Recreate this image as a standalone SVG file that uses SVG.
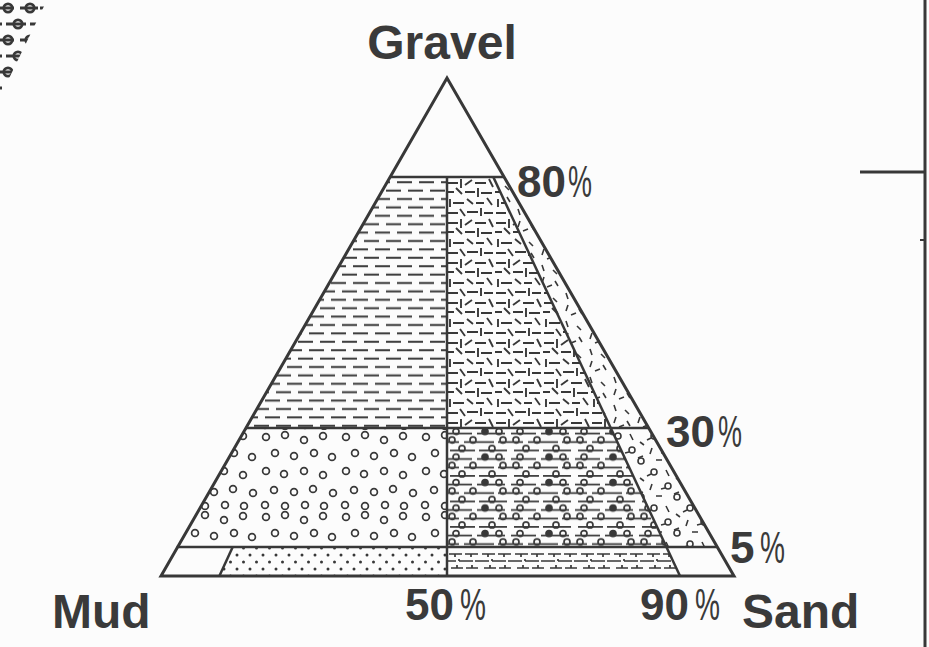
<svg xmlns="http://www.w3.org/2000/svg" width="929" height="647" viewBox="0 0 929 647">
<style>
.ln{stroke:#383838;fill:none;stroke-linecap:butt}
.edge{stroke:#383838;stroke-width:3;fill:none;stroke-linejoin:miter}
.div{stroke:#383838;stroke-width:2.5;fill:none}
.lbl{font-family:"Liberation Sans",Arial,Helvetica,sans-serif;font-weight:bold;fill:#3a3a3a}
.pct{font-family:"Liberation Sans",Arial,Helvetica,sans-serif;font-weight:normal;fill:#3a3a3a}
</style>
<defs>
<pattern id="pMG" patternUnits="userSpaceOnUse" x="0" y="178" width="22" height="16.8">
<path class="ln" stroke-width="2" d="M1 4.2h15 M-10 12.6h15 M12 12.6h15"/>
</pattern>
<pattern id="pMSG" patternUnits="userSpaceOnUse" x="447" y="178" width="48" height="40">
<path class="ln" stroke-width="1.9" d="M1 5h10 M14 1v9 M18 7l7-5 M28 5h11 M42 1l4 8 M0 14h7 M9 10l6 6 M18 14h10 M31 10v9 M34 15h11 M3 21v8 M6 25h11 M20 21l6 5 M29 25h8 M40 20l5 7 M1 35h10 M13 31l5 7 M20 34h11 M34 30v8 M37 35h9"/>
</pattern>
<pattern id="pSG" patternUnits="userSpaceOnUse" x="490" y="178" width="24" height="28">
<path class="ln" stroke-width="1.6" d="M4 3l2 6 M15 8l4 4 M6 15l-2 6 M17 19l3 5 M9 25l5-2"/>
</pattern>
<pattern id="pgM" patternUnits="userSpaceOnUse" x="180" y="430" width="80" height="80">
<g class="ln" stroke-width="1.7">
<circle cx="6" cy="7" r="3.4"/><circle cx="25" cy="5" r="3.4"/><circle cx="44" cy="10" r="3.4"/><circle cx="63" cy="6" r="3.4"/>
<circle cx="15" cy="23" r="3.4"/><circle cx="34" cy="26" r="3.4"/><circle cx="54" cy="23" r="3.4"/><circle cx="72" cy="27" r="3.4"/>
<circle cx="6" cy="41" r="3.4"/><circle cx="24" cy="44" r="3.4"/><circle cx="44" cy="41" r="3.4"/><circle cx="63" cy="45" r="3.4"/>
<circle cx="14" cy="60" r="3.4"/><circle cx="34" cy="62" r="3.4"/><circle cx="53" cy="59" r="3.4"/><circle cx="73" cy="63" r="3.4"/>
<circle cx="5" cy="75" r="3.4"/><circle cx="25" cy="76" r="3.4"/><circle cx="45" cy="75" r="3.4"/><circle cx="64" cy="76" r="3.4"/>
</g>
</pattern>
<pattern id="pgmS" patternUnits="userSpaceOnUse" x="447" y="427" width="64" height="25.5">
<g class="ln" stroke-width="1.7">
<path d="M0 6.5h25 M30 6.5h28 M-6 15h18 M17 15h30 M51 15h18 M3 23.5h25 M32 23.5h28"/>
<circle cx="9" cy="4.5" r="3"/><circle cx="38" cy="4.5" r="3" fill="#383838"/><circle cx="52" cy="4.5" r="3"/>
<circle cx="5" cy="13" r="3"/><circle cx="26" cy="13" r="3"/><circle cx="56" cy="13" r="3"/>
<circle cx="15" cy="21.5" r="3"/><circle cx="45" cy="21.5" r="3"/>
</g>
</pattern>
<pattern id="pFrag" patternUnits="userSpaceOnUse" x="-4" y="0" width="44" height="32">
<g class="ln" stroke-width="2.8">
<path d="M0 8h18 M24 8h18 M10 24h20 M34 24h10 M0 24h6"/>
<circle cx="12" cy="8" r="4.2"/><circle cx="34" cy="8" r="4.2"/><circle cx="22" cy="24" r="4.2"/>
</g>
</pattern>
<pattern id="pgS" patternUnits="userSpaceOnUse" x="610" y="430" width="36" height="36">
<g class="ln" stroke-width="1.6">
<circle cx="8" cy="6" r="3"/><path d="M5 8l-4 2 M20 4l3 6 M30 12l4 3"/>
<circle cx="22" cy="20" r="3"/><path d="M19 22l-4 1 M6 18l-2 6 M28 28l5-2 M10 30h6"/>
<circle cx="31" cy="31" r="3"/>
</g>
</pattern>
<pattern id="psM" patternUnits="userSpaceOnUse" x="0" y="548" width="13" height="14">
<circle cx="3" cy="7" r="1.5" fill="#383838"/><circle cx="9.5" cy="0" r="1.5" fill="#383838"/><circle cx="9.5" cy="14" r="1.5" fill="#383838"/>
</pattern>
<pattern id="pmS" patternUnits="userSpaceOnUse" x="447" y="548" width="33" height="28">
<path class="ln" stroke-width="1.7" d="M2 6h13 M8 6v3 M18 6h13 M24 6v3 M0 13h9 M12 13h14 M28 13h5 M12 13v-2 M4 20h12 M10 20v-3 M19 20h12 M25 20v-3"/>
</pattern>
<clipPath id="cTL"><polygon points="0,0 47,0 0,97"/></clipPath>
</defs>
<rect x="0" y="0" width="929" height="647" fill="#fcfcfc"/>

<g id="corner-fragment" clip-path="url(#cTL)">
<rect x="0" y="0" width="50" height="97" fill="url(#pFrag)"/>
</g>

<g id="frame-lines">
<path class="edge" d="M925 0V647"/>
<path class="edge" d="M860 172H925"/>
<path class="ln" stroke-width="2" d="M920 240h4"/>
</g>

<g id="fills">
<polygon id="muddy-gravel" points="390,177 447,177 447,428 245.3,428" fill="url(#pMG)"/>
<polygon id="muddy-sandy-gravel" points="447,177 493.3,177 610.8,428 447,428" fill="url(#pMSG)"/>
<polygon id="sandy-gravel" points="493.3,177 504,177 648.7,428 610.8,428" fill="url(#pSG)"/>
<polygon id="gravelly-mud" points="245.3,428 447,428 447,547 176.7,547" fill="url(#pgM)"/>
<polygon id="gravelly-muddy-sand" points="447,428 610.8,428 666.4,547 447,547" fill="url(#pgmS)"/>
<polygon id="gravelly-sand" points="610.8,428 648.7,428 717.3,547 666.4,547" fill="url(#pgS)"/>
<polygon id="sandy-mud" points="232.7,547 447,547 447,576 219.4,576" fill="url(#psM)"/>
<polygon id="muddy-sand" points="447,547 666.4,547 680,576 447,576" fill="url(#pmS)"/>
</g>

<g id="connectors">
<path class="div" d="M390 177H504"/>
<path class="div" d="M245.3 428H648.7"/>
<path class="div" d="M176.7 547H717.3"/>
<path class="div" d="M447 177V576"/>
<path class="div" d="M493.3 177L680 576"/>
<path class="div" d="M232.7 547L219.4 576"/>
<polygon class="edge" points="447,78 734,576 161,576"/>
</g>

<g id="labels">
<text class="lbl" x="442" y="59" font-size="48" text-anchor="middle">Gravel</text>
<text class="lbl" x="52" y="628" font-size="48">Mud</text>
<text class="lbl" x="742" y="628" font-size="48">Sand</text>
<g id="pct-80"><text class="lbl" x="517" y="197" font-size="44">80</text><text class="pct" x="568" y="197" font-size="44" textLength="24" lengthAdjust="spacingAndGlyphs">%</text></g>
<g id="pct-30"><text class="lbl" x="666" y="447" font-size="44">30</text><text class="pct" x="718" y="447" font-size="44" textLength="24" lengthAdjust="spacingAndGlyphs">%</text></g>
<g id="pct-5"><text class="lbl" x="730" y="563" font-size="44">5</text><text class="pct" x="760" y="563" font-size="44" textLength="25" lengthAdjust="spacingAndGlyphs">%</text></g>
<g id="pct-50"><text class="lbl" x="405" y="620" font-size="44">50</text><text class="pct" x="460" y="620" font-size="44" textLength="26" lengthAdjust="spacingAndGlyphs">%</text></g>
<g id="pct-90"><text class="lbl" x="640" y="620" font-size="44">90</text><text class="pct" x="695" y="620" font-size="44" textLength="25" lengthAdjust="spacingAndGlyphs">%</text></g>
</g>
</svg>
